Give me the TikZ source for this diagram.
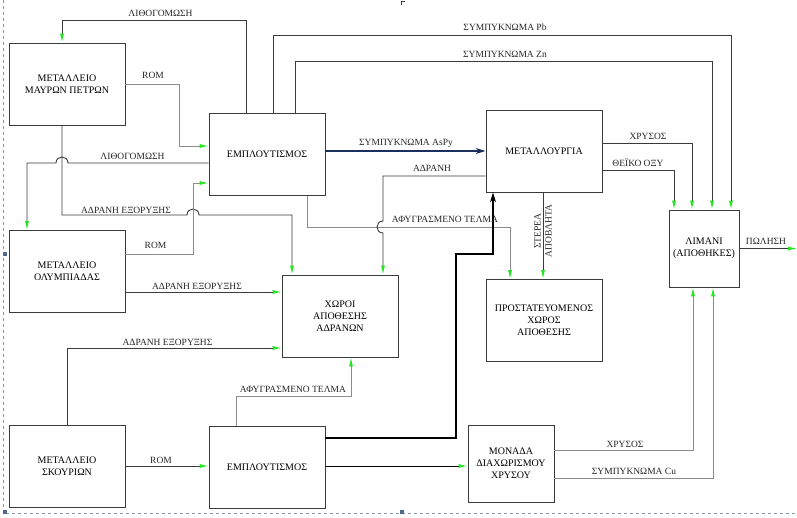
\documentclass[tikz,border=0pt]{standalone}
\usepackage{fontspec}
\setmainfont{Liberation Serif}
\usepackage{tikz}
\usetikzlibrary{arrows.meta}
\definecolor{lnDark}{HTML}{3A3A3A}
\definecolor{lnSoft}{HTML}{8C8C8C}
\definecolor{aGreen}{HTML}{22E622}
\definecolor{aNavy}{HTML}{1B2F5E}
\definecolor{fDash}{HTML}{8A98B8}
\definecolor{fMark}{HTML}{4F6A8F}
\tikzset{
  unit/.style={draw=lnDark, line width=0.9pt, fill=white, minimum width=116pt,
    minimum height=82pt, inner sep=2pt, align=center, font=\fontsize{10}{12}\selectfont},
  flow/.style={draw=lnDark, line width=0.9pt},
  soft/.style={draw=lnSoft, line width=0.9pt},
  garr/.style={-{Latex[length=9pt,width=4pt,color=aGreen]}},
  lbl/.style={font=\fontsize{9.5}{11}\selectfont, inner sep=0pt, text=black!85, align=center},
}

\begin{document}
\begin{tikzpicture}[x=1pt, y=-1pt, >=Stealth]
  \useasboundingbox (0,0) rectangle (797,517);
  % frame of the sheet
  \draw[fDash, dashed, line width=0.5pt] (3,0) -- (3,513) -- (797,513);
  \fill[fMark] (3,252) rectangle (7,256);
  \fill[fMark] (3,510) rectangle (7,514);
  \fill[fMark] (400,510) rectangle (404,514);
  \draw[lnDark, line width=0.6pt] (401,5) -- (401,1) -- (405,1);

  % units
  \node[unit] (mavra) at (67,84) {ΜΕΤΑΛΛΕΙΟ\\ΜΑΥΡΩΝ ΠΕΤΡΩΝ};
  \node[unit] (olymp) at (67,271.5) {ΜΕΤΑΛΛΕΙΟ\\ΟΛΥΜΠΙΑΔΑΣ};
  \node[unit] (skour) at (67,466) {ΜΕΤΑΛΛΕΙΟ\\ΣΚΟΥΡΙΩΝ};
  \node[unit] (emplA) at (267,154.5) {ΕΜΠΛΟΥΤΙΣΜΟΣ};
  \node[unit] (emplB) at (267,467.5) {ΕΜΠΛΟΥΤΙΣΜΟΣ};
  \node[unit] (xoroi) at (340,316) {ΧΩΡΟΙ\\ΑΠΟΘΕΣΗΣ\\ΑΔΡΑΝΩΝ};
  \node[unit] (metal) at (544,151) {ΜΕΤΑΛΛΟΥΡΓΙΑ};
  \node[unit] (prost) at (544,320.5) {ΠΡΟΣΤΑΤΕΥΟΜΕΝΟΣ\\ΧΩΡΟΣ\\ΑΠΟΘΕΣΗΣ};
  \node[unit, minimum width=70pt, minimum height=77pt] (limani) at (704,248.5) {ΛΙΜΑΝΙ\\(ΑΠΟΘΗΚΕΣ)};
  \node[unit, minimum width=86pt, minimum height=77pt] (monada) at (511,463.5) {ΜΟΝΑΔΑ\\ΔΙΑΧΩΡΙΣΜΟΥ\\ΧΡΥΣΟΥ};
  \coordinate (sale) at (797,248.5);

  % flows out of the upper concentrator
  \draw[flow, garr] ([xshift=-21pt]emplA.north) |- (62,20) -- ([xshift=-5pt]mavra.north);
  \draw[flow, garr] ([xshift=6pt]emplA.north) |- (731,35) -- ([xshift=27pt]limani.north);
  \draw[flow, garr] ([xshift=28pt]emplA.north) |- (712,61) -- ([xshift=8pt]limani.north);
  \draw[aNavy, line width=1.3pt, -{Stealth[length=10pt,width=6pt]}] ([yshift=3.5pt]emplA.east) -- (metal.west);
  \draw[soft, garr] ([xshift=40pt]emplA.south) |- (510,227) -- ([xshift=-34pt]prost.north);
  \draw[flow, garr] ([yshift=-8.5pt]emplA.west) -- (68,163)
    .. controls (68,155) and (56,155) .. (56,163) -- (27,163) -- ([xshift=-40pt]olymp.north);

  % ore feeds and waste rock
  \draw[soft, garr] (mavra.east) -| (179,146) -- ([yshift=8.5pt]emplA.west);
  \draw[flow, garr] ([xshift=-5pt]mavra.south) -- (62,215) -- (187,215)
    .. controls (187,207) and (199,207) .. (199,215) -- (292,215) -- ([xshift=-48pt]xoroi.north);
  \draw[soft, garr] ([yshift=17.5pt]olymp.east) -| (193,183) -- ([yshift=-28.5pt]emplA.west);
  \draw[flow, garr] ([yshift=-20.5pt]olymp.east) -- ([yshift=24pt]xoroi.west);
  \draw[flow, garr] (skour.north) |- ([yshift=-32pt]xoroi.west);
  \draw[flow, garr] (skour.east) -- ([yshift=1.5pt]emplB.west);

  % lower concentrator
  \draw[soft, garr] ([xshift=-31pt]emplB.north) |- (351,396) -- ([xshift=11pt]xoroi.south);
  \draw[black, line width=1.1pt, -{Stealth[length=10pt,width=6pt]}] ([yshift=29.5pt]emplB.east) -| (456,254) -| ([xshift=-51pt]metal.south);
  \draw[black, line width=0.9pt, -{Latex[length=9pt,width=4pt,color=aGreen]}] ([yshift=1.5pt]emplB.east) -- ([yshift=-2.5pt]monada.west);

  % metallurgy and port
  \draw[flow, garr] ([yshift=-25pt]metal.west) -- (383,176) -- (383,221)
    .. controls (375,221) and (375,233) .. (383,233) -- ([xshift=43pt]xoroi.north);
  \draw[flow, garr] ([xshift=-1pt]metal.south) -- ([xshift=-1pt]prost.north);
  \draw[flow, garr] ([yshift=8pt]metal.east) -| ([xshift=-12pt]limani.north);
  \draw[flow, garr] ([yshift=-19pt]metal.east) -| ([xshift=-30pt]limani.north);
  \draw[flow, garr] (limani.east) -- (sale);
  \draw[soft, garr] ([yshift=13.5pt]monada.east) -| ([xshift=-11pt]limani.south);
  \draw[soft, garr] ([yshift=-14.5pt]monada.east) -| ([xshift=9pt]limani.south);

  % labels
  \node[lbl] (tLithA) at (160.5,13) {ΛΙΘΟΓΟΜΩΣΗ};
  \node[lbl] (tRomA) at (153,75.5) {ROM};
  \node[lbl] (tPb) at (505,27.5) {ΣΥΜΠΥΚΝΩΜΑ Pb};
  \node[lbl] (tZn) at (505,54) {ΣΥΜΠΥΚΝΩΜΑ Zn};
  \node[lbl] (tAsPy) at (406,143) {ΣΥΜΠΥΚΝΩΜΑ AsPy};
  \node[lbl] (tAdr) at (432,168) {ΑΔΡΑΝΗ};
  \node[lbl] (tTelA) at (445,219) {ΑΦΥΓΡΑΣΜΕΝΟ ΤΕΛΜΑ};
  \node[lbl, rotate=90] (tSter) at (543,231) {ΣΤΕΡΕΑ\\ΑΠΟΒΛΗΤΑ};
  \node[lbl] (tAuA) at (648,136) {ΧΡΥΣΟΣ};
  \node[lbl] (tAcid) at (638,163) {ΘΕΪΚΟ ΟΞΥ};
  \node[lbl] (tSale) at (766,241) {ΠΩΛΗΣΗ};
  \node[lbl] (tAuB) at (625,444) {ΧΡΥΣΟΣ};
  \node[lbl] (tCu) at (634,471) {ΣΥΜΠΥΚΝΩΜΑ Cu};
  \node[lbl] (tLithB) at (132.5,156) {ΛΙΘΟΓΟΜΩΣΗ};
  \node[lbl] (tExA) at (126,210) {ΑΔΡΑΝΗ ΕΞΟΡΥΞΗΣ};
  \node[lbl] (tRomB) at (155.5,245) {ROM};
  \node[lbl] (tExB) at (197,286) {ΑΔΡΑΝΗ ΕΞΟΡΥΞΗΣ};
  \node[lbl] (tExC) at (167.5,342) {ΑΔΡΑΝΗ ΕΞΟΡΥΞΗΣ};
  \node[lbl] (tRomC) at (161,460) {ROM};
  \node[lbl] (tTelB) at (293,389) {ΑΦΥΓΡΑΣΜΕΝΟ ΤΕΛΜΑ};
\end{tikzpicture}
\end{document}
